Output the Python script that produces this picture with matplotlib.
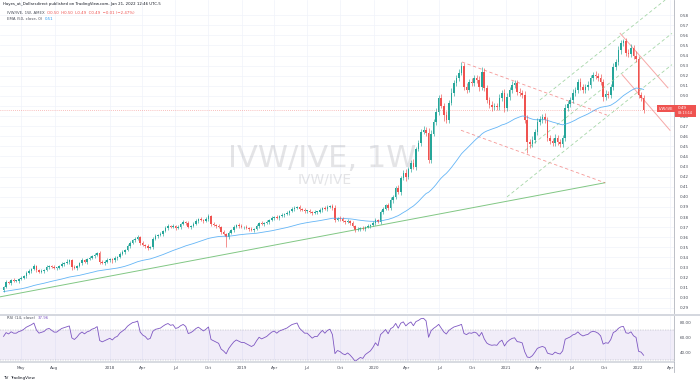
import numpy as np
import pandas as pd
import matplotlib
matplotlib.use("Agg")
import matplotlib.pyplot as plt
from matplotlib.patches import Rectangle

W, H = 700, 384

START = "2017-03-13"
FIRST_OPEN = 0.308

# weekly closes IVW/IVE
closes = [
    0.311, 0.316, 0.315, 0.318, 0.317, 0.317, 0.319, 0.320, 0.322, 0.325,
    0.327, 0.329, 0.332, 0.328, 0.326, 0.327, 0.328, 0.331, 0.332, 0.331,
    0.330, 0.330, 0.332, 0.334, 0.335, 0.336, 0.337, 0.331, 0.330, 0.332,
    0.335, 0.337, 0.336, 0.338, 0.339, 0.341, 0.342, 0.344, 0.336, 0.335,
    0.336, 0.337, 0.338, 0.337, 0.339, 0.340, 0.343, 0.345, 0.347, 0.351,
    0.354, 0.357, 0.358, 0.360, 0.354, 0.352, 0.351, 0.349, 0.350, 0.358,
    0.361, 0.362, 0.363, 0.366, 0.369, 0.371, 0.370, 0.371, 0.369, 0.370,
    0.373, 0.375, 0.374, 0.370, 0.371, 0.373, 0.376, 0.378, 0.377, 0.376,
    0.378, 0.381, 0.373, 0.372, 0.371, 0.370, 0.365, 0.363, 0.360, 0.364,
    0.367, 0.370, 0.372, 0.371, 0.370, 0.370, 0.369, 0.368, 0.367, 0.368,
    0.371, 0.374, 0.373, 0.374, 0.375, 0.377, 0.379, 0.380, 0.379, 0.381,
    0.382, 0.383, 0.384, 0.386, 0.388, 0.389, 0.390, 0.388, 0.387, 0.386,
    0.386, 0.385, 0.384, 0.385, 0.385, 0.387, 0.389, 0.388, 0.390, 0.391,
    0.389, 0.377, 0.379, 0.378, 0.376, 0.375, 0.376, 0.374, 0.371, 0.367,
    0.368, 0.369, 0.368, 0.370, 0.371, 0.372, 0.374, 0.377, 0.375, 0.385,
    0.388, 0.392, 0.389, 0.397, 0.400, 0.409, 0.405, 0.419, 0.424, 0.420,
    0.428, 0.434, 0.430, 0.447, 0.453, 0.464, 0.466, 0.463, 0.437, 0.462,
    0.474, 0.484, 0.498, 0.490, 0.481, 0.476, 0.493, 0.503, 0.513, 0.518,
    0.523, 0.530, 0.509, 0.506, 0.514, 0.513, 0.518, 0.516, 0.509, 0.524,
    0.508, 0.496, 0.491, 0.489, 0.490, 0.489, 0.498, 0.503, 0.488, 0.499,
    0.506, 0.511, 0.513, 0.504, 0.503, 0.501, 0.476, 0.454, 0.452, 0.456,
    0.464, 0.474, 0.477, 0.479, 0.476, 0.458, 0.455, 0.453, 0.458, 0.454,
    0.452, 0.458, 0.488, 0.492, 0.496, 0.503, 0.506, 0.514, 0.509, 0.506,
    0.509, 0.511, 0.518, 0.521, 0.520, 0.518, 0.514, 0.499, 0.502, 0.501,
    0.509, 0.529, 0.534, 0.545, 0.552, 0.554, 0.543, 0.542, 0.547, 0.540,
    0.537, 0.501, 0.498, 0.486,
]

# wick lengths above / below the body, in thousandths
wick_up = [
    1, 2, 1, 1, 2, 1, 1, 2, 1, 2,
    2, 1, 2, 1, 1, 2, 1, 2, 1, 1,
    2, 1, 1, 2, 1, 2, 1, 1, 2, 1,
    1, 2, 1, 1, 2, 1, 2, 1, 2, 1,
    1, 2, 1, 1, 2, 1, 2, 2, 1, 2,
    2, 1, 2, 2, 1, 2, 1, 2, 1, 2,
    2, 1, 2, 1, 2, 2, 1, 2, 1, 2,
    1, 2, 1, 2, 1, 2, 2, 1, 2, 1,
    2, 2, 1, 2, 1, 2, 1, 2, 1, 2,
    1, 2, 1, 2, 2, 1, 2, 1, 2, 1,
    2, 1, 2, 1, 2, 1, 2, 1, 2, 1,
    2, 1, 2, 1, 2, 2, 1, 2, 1, 2,
    1, 2, 1, 2, 1, 2, 1, 2, 2, 1,
    2, 3, 1, 2, 2, 1, 2, 1, 2, 1,
    2, 1, 2, 1, 2, 1, 2, 2, 1, 2,
    2, 1, 2, 3, 2, 2, 3, 2, 3, 4,
    2, 3, 4, 2, 3, 3, 4, 3, 5, 4,
    3, 4, 3, 4, 3, 4, 3, 5, 3, 3,
    4, 4, 3, 4, 3, 4, 3, 3, 4, 5,
    4, 3, 3, 4, 3, 3, 4, 3, 4, 4,
    3, 4, 3, 3, 4, 3, 4, 5, 3, 4,
    3, 4, 3, 3, 4, 3, 3, 3, 4, 3,
    3, 3, 4, 3, 3, 4, 3, 3, 4, 3,
    3, 4, 3, 3, 4, 3, 4, 3, 4, 3,
    3, 4, 3, 4, 3, 2, 3, 3, 4, 3,
    4, 3, 3, 3,
]
wick_dn = [
    2, 1, 1, 2, 1, 1, 2, 1, 1, 2,
    1, 2, 1, 2, 1, 1, 2, 1, 2, 1,
    1, 2, 1, 1, 2, 1, 2, 3, 1, 2,
    1, 2, 1, 2, 1, 1, 2, 1, 2, 1,
    2, 1, 1, 2, 1, 2, 1, 1, 2, 1,
    2, 1, 2, 1, 2, 1, 2, 2, 1, 2,
    1, 2, 1, 2, 1, 2, 1, 1, 2, 1,
    2, 1, 2, 1, 2, 1, 1, 2, 1, 2,
    1, 2, 2, 1, 2, 1, 2, 1, 10, 2,
    1, 2, 1, 2, 1, 2, 1, 2, 1, 2,
    1, 2, 1, 2, 1, 2, 1, 2, 1, 2,
    1, 2, 1, 2, 1, 2, 1, 2, 1, 2,
    2, 1, 2, 1, 2, 1, 2, 1, 2, 1,
    2, 2, 1, 2, 1, 2, 1, 2, 1, 2,
    1, 2, 1, 2, 1, 2, 1, 2, 1, 2,
    2, 1, 2, 2, 3, 2, 2, 3, 2, 4,
    2, 3, 2, 3, 2, 3, 2, 3, 3, 3,
    2, 3, 3, 2, 6, 3, 3, 2, 3, 3,
    3, 2, 3, 3, 2, 3, 3, 3, 4, 3,
    3, 3, 3, 4, 3, 3, 3, 3, 4, 3,
    3, 3, 3, 3, 3, 3, 3, 11, 4, 3,
    3, 3, 3, 4, 3, 3, 3, 3, 3, 3,
    3, 3, 3, 3, 3, 3, 3, 3, 3, 3,
    3, 3, 3, 3, 3, 3, 3, 4, 3, 3,
    3, 3, 3, 3, 3, 3, 3, 3, 3, 3,
    3, 3, 3, 3,
]

# starting states for indicators (history before the visible window)
EMA_SEED = 0.306
RSI_SEED_GAIN = 0.0014
RSI_SEED_LOSS = 0.0011

tick_dates = ["2017-05-01", "2017-08-01", "2018-01-01", "2018-04-01", "2018-07-01",
              "2018-10-01", "2019-01-01", "2019-04-01", "2019-07-01", "2019-10-01",
              "2020-01-01", "2020-04-01", "2020-07-01", "2020-10-01", "2021-01-01",
              "2021-04-01", "2021-07-01", "2021-10-01", "2022-01-01", "2022-04-01"]
tick_labels = ["May", "Aug", "2018", "Apr", "Jul", "Oct", "2019", "Apr", "Jul", "Oct",
               "2020", "Apr", "Jul", "Oct", "2021", "Apr", "Jul", "Oct", "2022", "Apr"]

# drawings (week index, price)
green_trend = ([-1.4, 237.7], [0.301, 0.414])
red_dash_top = ([181.2, 238.5], [0.5336, 0.481])
red_dash_bot = ([180.8, 237.7], [0.466, 0.414])
red_solid_top = ([243.7, 262.6], [0.562, 0.508])
red_solid_bot = ([244.5, 263.4], [0.521, 0.466])
up_chan = [([212.0, 261.5], [0.496, 0.595]),
           ([206.1, 264.2], [0.446, 0.562]),
           ([199.0, 264.2], [0.400, 0.531])]

UP = "#26a69a"
DOWN = "#ef5350"
GRID = "#f0f3fa"
TXT = "#4a4e59"

closes = np.array(closes)
n = len(closes)
opens = np.r_[FIRST_OPEN, closes[:-1]]
highs = np.maximum(opens, closes) + np.array(wick_up) / 1000
lows = np.minimum(opens, closes) - np.array(wick_dn) / 1000
x = np.arange(n)
start = pd.Timestamp(START)

ema = []
e = EMA_SEED
for c in closes:
    e = e + 2 / 51 * (c - e)
    ema.append(e)

rsi = []
g, l = RSI_SEED_GAIN, RSI_SEED_LOSS
for d in np.diff(np.r_[FIRST_OPEN - 0.001, closes]):
    g = (g * 13 + max(d, 0)) / 14
    l = (l * 13 + max(-d, 0)) / 14
    rsi.append(100 - 100 / (1 + g / l))

fig = plt.figure(figsize=(W / 100, H / 100), dpi=100)
right = 674 / W
ax = fig.add_axes([0, 1 - 313 / H, right, 313 / H])
ax_rsi = fig.add_axes([0, 1 - 362 / H, right, 46 / H])

xt = [(pd.Timestamp(d) - start).days / 7 for d in tick_dates]
xmin, xmax = -1.4, 265

# main pane
ax.set_xlim(xmin, xmax)
ax.set_ylim(0.285, 0.595)
yt = np.round(np.arange(0.29, 0.5851, 0.01), 2)
ax.set_yticks(yt)
# the 0.49 label sits under the last-price tag
ax.set_yticklabels(["" if abs(v - 0.49) < 1e-9 else f"{v:.2f}" for v in yt])
ax.yaxis.tick_right()
ax.tick_params(axis="y", length=0, pad=4, labelsize=3, labelcolor=TXT)
ax.set_xticks(xt)
ax.tick_params(axis="x", length=0, labelbottom=False)
ax.grid(True, color=GRID, lw=0.5)
ax.set_axisbelow(True)
for s in ["top", "left", "bottom"]:
    ax.spines[s].set_visible(False)
ax.spines["right"].set_color("#b2b5be")
ax.spines["right"].set_linewidth(0.6)

# watermark
ax.text(126, 0.438, "IVW/IVE, 1W", fontsize=22, color="#787b86", alpha=0.2,
        ha="center", va="center")
ax.text(127, 0.417, "IVW/IVE", fontsize=10, color="#787b86", alpha=0.2,
        ha="center", va="center")

ax.plot(*green_trend, color="#81c784", lw=0.7)
ax.plot(*red_dash_top, color=DOWN, lw=0.6, ls=(0, (4, 3)), alpha=0.6)
ax.plot(*red_dash_bot, color=DOWN, lw=0.6, ls=(0, (4, 3)), alpha=0.6)
ax.plot(*red_solid_top, color=DOWN, lw=0.7, alpha=0.5)
ax.plot(*red_solid_bot, color=DOWN, lw=0.7, alpha=0.5)
for xs, ys in up_chan:
    ax.plot(xs, ys, color="#a5d6a7", lw=0.6, ls=(0, (4, 3)))

ax.plot(x, ema, color="#64b5f6", lw=0.6)

colors = np.where(closes >= opens, UP, DOWN)
ax.vlines(x, lows, highs, colors=colors, lw=0.45)
body = np.maximum(np.abs(closes - opens), 0.0006)
ax.bar(x, body, bottom=np.minimum(opens, closes), width=0.62, color=colors, lw=0)

ax.axhline(closes[-1], color=DOWN, lw=0.5, ls=(0, (1, 2)), alpha=0.7)

# rsi pane
ax_rsi.set_xlim(xmin, xmax)
ax_rsi.set_ylim(26.7, 88)
ax_rsi.axhspan(30, 70, color="#7e57c2", alpha=0.1, lw=0)
ax_rsi.axhline(70, color="#9598a1", lw=0.3, ls=(0, (3, 3)))
ax_rsi.axhline(30, color="#9598a1", lw=0.3, ls=(0, (3, 3)))
ax_rsi.plot(x, rsi, color="#7e57c2", lw=0.6)
ax_rsi.set_yticks([40, 60, 80])
ax_rsi.set_yticklabels(["40.00", "60.00", "80.00"])
ax_rsi.yaxis.tick_right()
ax_rsi.tick_params(axis="y", length=0, pad=4, labelsize=3, labelcolor=TXT)
ax_rsi.set_xticks(xt)
ax_rsi.set_xticklabels(tick_labels)
ax_rsi.tick_params(axis="x", length=0, pad=3, labelsize=3, labelcolor=TXT)
ax_rsi.grid(True, axis="x", color=GRID, lw=0.5)
ax_rsi.set_axisbelow(True)
ax_rsi.spines["top"].set_visible(False)
ax_rsi.spines["left"].set_visible(False)
ax_rsi.spines["right"].set_color("#b2b5be")
ax_rsi.spines["right"].set_linewidth(0.6)
ax_rsi.spines["bottom"].set_color("#d1d4dc")
ax_rsi.spines["bottom"].set_linewidth(1.2)


def px(xp, yp):
    return xp / W, 1 - yp / H


renderer = fig.canvas.get_renderer()


def text_row(xp, yp, parts, size=3, gap=2.5):
    # place pieces of text one after another on a line
    for s, col in parts:
        t = fig.text(*px(xp, yp), s, fontsize=size, color=col, va="center")
        xp = t.get_window_extent(renderer).x1 + gap


# pane separator
fig.add_artist(plt.Line2D([0, 1], [1 - 314.5 / H] * 2, color="#d1d4dc", lw=1.3))
fig.add_artist(plt.Line2D([right, right], [1 - 372 / H, 1 - 362 / H], color="#b2b5be", lw=0.6))

# header
text_row(3, 4, [("Hayes_at_Dollarsdirect published on TradingView.com, Jan 21, 2022 12:46 UTC-5",
                 "#131722")], size=2.8)
text_row(7, 13, [("IVW/IVE, 1W, AMEX", TXT),
                 ("O0.50  H0.50  L0.49  C0.49  \u22120.01 (\u22122.47%)", DOWN)], size=2.8)
text_row(7, 19, [("EMA (50, close, 0)", TXT), ("0.51", "#2196f3")], size=2.8)
text_row(7, 318, [("RSI (14, close)", TXT), ("37.96", "#7e57c2")], size=2.8)

# last price tag
fig.add_artist(Rectangle(px(657, 112), 18 / W, 7 / H, color=DOWN, lw=0))
fig.add_artist(Rectangle(px(675, 117), 21 / W, 12 / H, color=DOWN, lw=0))
fig.text(*px(666, 108.5), "IVW/IVE", fontsize=2.6, color="white", ha="center", va="center")
fig.text(*px(678, 108), "0.49", fontsize=3, color="white", va="center")
fig.text(*px(678, 113.5), "03:13:14", fontsize=2.4, color="white", va="center")

# logo
text_row(3, 378, [("TV", "#131722"), ("TradingView", "#131722")], size=3, gap=1.5)

fig.savefig("out.png", dpi=100, facecolor="white")
